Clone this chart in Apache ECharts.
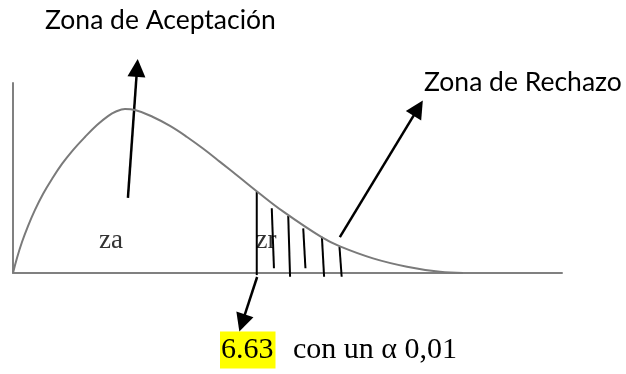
<!DOCTYPE html>
<html>
<head>
<meta charset="utf-8">
<script src="https://cdn.jsdelivr.net/npm/echarts@6/dist/echarts.min.js"></script>
<style>
  html, body { margin: 0; padding: 0; background: #fff; }
  #chart { width: 626px; height: 374px; }
</style>
</head>
<body>
<div id="chart"></div>
<script>
// curva de densidad
const curveX = [0, 0.109, 0.246, 0.410, 0.601, 0.820, 1.066, 1.339, 1.639, 1.967, 2.295, 2.596, 2.814, 3.060, 3.333, 3.825, 4.290, 4.754, 5.191, 5.656, 6.202, 6.667, 7.377, 8.443, 8.934, 9.836, 10.765, 11.667, 12.295];
const curveY = [0, 0.079, 0.163, 0.247, 0.332, 0.416, 0.495, 0.574, 0.647, 0.716, 0.779, 0.826, 0.850, 0.863, 0.858, 0.821, 0.774, 0.716, 0.655, 0.585, 0.501, 0.429, 0.324, 0.187, 0.140, 0.077, 0.033, 0.006, 0];

// rayado de la zona de rechazo: [x1, y1, x2, y2]
const hatchLines = [
  [6.66, 0.429, 6.66, -0.011],
  [7.07, 0.341, 7.13, 0.025],
  [7.52, 0.300, 7.57, -0.02],
  [7.93, 0.235, 7.99, 0.025],
  [8.44, 0.190, 8.50, -0.02],
  [8.92, 0.138, 8.98, -0.02]
];

// flechas: [desde, hasta]
const arrows = [
  [[3.14, 0.395], [3.39, 1.079]],
  [[8.93, 0.189], [11.07, 0.868]],
  [[6.67, -0.021], [6.26, -0.263]]
];

const valorCritico = '6.63';
const textoAlfa = 'con un α 0,01';

const chart = echarts.init(document.getElementById('chart'));
const axisStyle = { color: '#808080', width: 2 };
const option = {
  animation: false,
  grid: { left: 13, right: 64, top: 83, bottom: 101 },
  xAxis: {
    type: 'value', min: 0, max: 15,
    axisLine: { show: true, onZero: false, lineStyle: axisStyle },
    axisTick: { show: false }, axisLabel: { show: false }, splitLine: { show: false }
  },
  yAxis: {
    type: 'value', min: 0, max: 1,
    axisLine: { show: true, onZero: false, lineStyle: axisStyle },
    axisTick: { show: false }, axisLabel: { show: false }, splitLine: { show: false }
  },
  series: [
    {
      type: 'line',
      data: curveX.map((x, i) => [x, curveY[i]]),
      smooth: 0.4,
      showSymbol: false,
      lineStyle: { color: '#7a7a7a', width: 2 },
      silent: true
    },
    {
      type: 'custom',
      clip: false,
      data: hatchLines,
      renderItem: function (params, api) {
        const p1 = api.coord([api.value(0), api.value(1)]);
        const p2 = api.coord([api.value(2), api.value(3)]);
        return {
          type: 'line',
          shape: { x1: p1[0], y1: p1[1], x2: p2[0], y2: p2[1] },
          style: { stroke: '#000', lineWidth: 2 }
        };
      },
      silent: true
    },
    {
      type: 'lines',
      coordinateSystem: 'cartesian2d',
      clip: false,
      symbol: ['none', 'triangle'],
      symbolSize: [15, 18],
      lineStyle: { color: '#000', width: 2.5, opacity: 1 },
      itemStyle: { color: '#000' },
      data: arrows.map(a => ({ coords: a })),
      silent: true
    }
  ],
  graphic: [
    {
      type: 'text', left: 45, top: 7,
      style: { text: 'Zona de Aceptación', font: '26.5px Lato', fill: '#000' }
    },
    {
      type: 'text', left: 424, top: 69,
      style: { text: 'Zona de Rechazo', font: '26.5px Lato', fill: '#000' }
    },
    {
      type: 'text', x: 111, y: 241,
      style: { text: 'za', font: '27px "Liberation Serif"', fill: '#333', align: 'center', verticalAlign: 'middle' }
    },
    {
      type: 'text', x: 266, y: 241,
      style: { text: 'zr', font: '27px "Liberation Serif"', fill: '#333', align: 'center', verticalAlign: 'middle' }
    },
    {
      type: 'text', x: 220, y: 350,
      style: {
        text: valorCritico, font: '30px "Liberation Serif"', fill: '#000',
        verticalAlign: 'middle', backgroundColor: '#ffff00', padding: [4, 2, 3, 1]
      }
    },
    {
      type: 'text', x: 293, y: 350,
      style: { text: textoAlfa, font: '30px "Liberation Serif"', fill: '#000', verticalAlign: 'middle' }
    }
  ]
};
chart.setOption(option);
</script>
</body>
</html>
